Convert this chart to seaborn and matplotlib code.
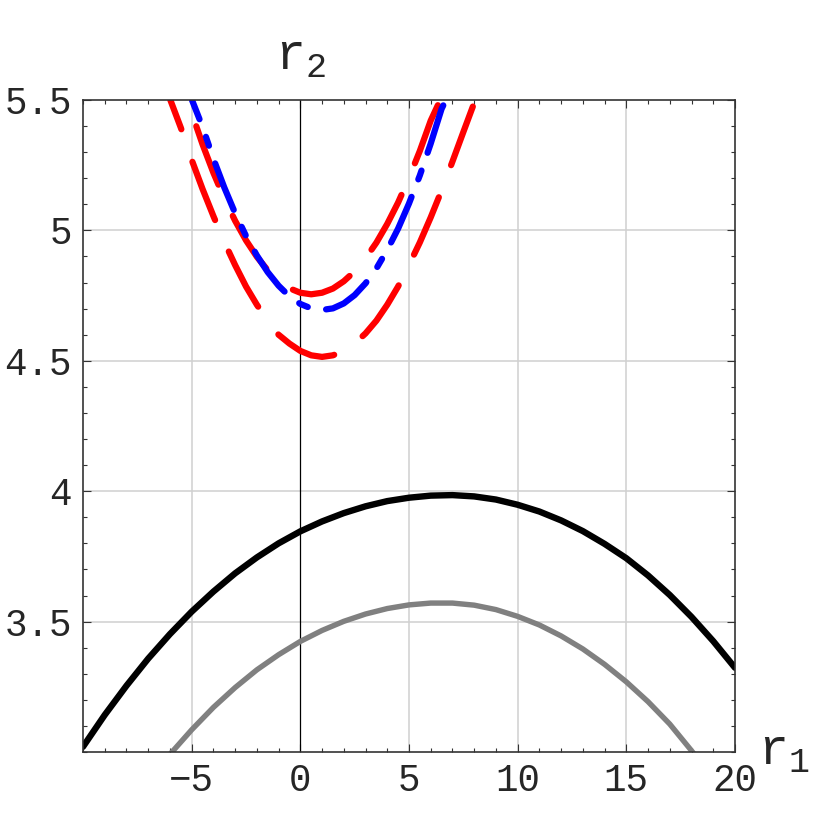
import matplotlib
matplotlib.use("Agg")
import matplotlib.pyplot as plt
import seaborn as sns
from matplotlib.ticker import FixedLocator, MultipleLocator

# values
black_x = [-10, -9, -8, -7, -6, -5, -4, -3, -2, -1, 0, 1, 2, 3, 4, 5, 6, 7,
           8, 9, 10, 11, 12, 13, 14, 15, 16, 17, 18, 19, 20]
black_y = [3.02, 3.142, 3.254, 3.358, 3.452, 3.538, 3.615, 3.685, 3.746, 3.800,
           3.846, 3.884, 3.916, 3.942, 3.962, 3.975, 3.983, 3.985, 3.980,
           3.968, 3.948, 3.922, 3.888, 3.847, 3.798, 3.743, 3.677, 3.602,
           3.518, 3.425, 3.323]

gray_x = [-6, -5, -4, -3, -2, -1, 0, 1, 2, 3, 4, 5, 6, 7, 8, 9, 10, 11, 12,
          13, 14, 15, 16, 17, 18, 18.2]
gray_y = [2.991, 3.085, 3.171, 3.247, 3.315, 3.373, 3.424, 3.466, 3.501, 3.529,
          3.550, 3.564, 3.571, 3.571, 3.563, 3.546, 3.52, 3.487, 3.445, 3.395,
          3.336, 3.269, 3.193, 3.107, 3.005, 2.983]

blue_x = [-4.985, -4.5, -4, -3.5, -3, -2.5, -2, -1.5, -1, -0.5, 0, 0.5, 1,
          1.5, 2, 2.5, 3, 3.5, 4, 4.5, 5, 5.5, 6, 6.5, 6.7]
blue_y = [5.5, 5.397, 5.275, 5.165, 5.066, 4.979, 4.904, 4.840, 4.788, 4.747,
          4.718, 4.701, 4.695, 4.701, 4.72, 4.752, 4.797, 4.854, 4.925, 5.007,
          5.103, 5.211, 5.333, 5.466, 5.5]

red_in_x = [-5.25, -5, -4.5, -4, -3.5, -3, -2.5, -2, -1.5, -1, -0.5, 0, 0.5,
            1, 1.5, 2, 2.5, 3, 3.5, 4, 4.5, 5, 5.5, 6, 6.44]
red_in_y = [5.5, 5.451, 5.33, 5.221, 5.123, 5.037, 4.962, 4.899, 4.847, 4.807,
            4.778, 4.761, 4.755, 4.761, 4.777, 4.805, 4.843, 4.893, 4.953,
            5.025, 5.107, 5.201, 5.305, 5.421, 5.5]

red_out_x = [-5.98, -5.5, -5, -4.5, -4, -3.5, -3, -2.5, -2, -1.5, -1, -0.5, 0,
             0.5, 1, 1.5, 2, 2.5, 3, 3.5, 4, 4.5, 5, 5.5, 6, 6.5, 7, 7.5, 8.05]
red_out_y = [5.5, 5.394, 5.271, 5.159, 5.055, 4.956, 4.867, 4.785, 4.715,
             4.654, 4.60, 4.566, 4.538, 4.521, 4.515, 4.521, 4.538, 4.566,
             4.605, 4.654, 4.715, 4.785, 4.867, 4.954, 5.05, 5.153, 5.264,
             5.377, 5.5]

x_ticks = [-5, 0, 5, 10, 15, 20]
x_labels = ["\u22125", "0", "5", "10", "15", "20"]
y_ticks = [3.5, 4, 4.5, 5, 5.5]
y_labels = ["3.5", "4", "4.5", "5", "5.5"]

sns.set_style("ticks")
plt.rcParams["font.family"] = ["Liberation Mono", "DejaVu Sans Mono"]
plt.rcParams["mathtext.fontset"] = "custom"
plt.rcParams["mathtext.rm"] = "Liberation Mono"
plt.rcParams["mathtext.it"] = "Liberation Mono"

fig = plt.figure(figsize=(8.3, 8.3), dpi=100)
ax = fig.add_axes([0.1, 0.094, 0.7855, 0.7855])

ax.set_xlim(-10, 20)
ax.set_ylim(3.0, 5.5)

# grid and the r2 axis line
for gx in [-5, 5, 10, 15]:
    ax.axvline(gx, color="#d0d0d0", lw=1.1, zorder=0)
for gy in [3.5, 4, 4.5, 5]:
    ax.axhline(gy, color="#d0d0d0", lw=1.1, zorder=0)
ax.axvline(0, color="black", lw=0.9, zorder=1)

sns.lineplot(x=black_x, y=black_y, ax=ax, color="black", linewidth=4.6,
             estimator=None, sort=False)
sns.lineplot(x=gray_x, y=gray_y, ax=ax, color="#808080", linewidth=3.9,
             estimator=None, sort=False)

sns.lineplot(x=red_out_x, y=red_out_y, ax=ax, color="red", linewidth=4.5,
             linestyle=(5, (10, 5.5)), dash_capstyle="round",
             estimator=None, sort=False)
sns.lineplot(x=red_in_x, y=red_in_y, ax=ax, color="red", linewidth=4.5,
             linestyle=(11, (10, 5.5)), dash_capstyle="round",
             estimator=None, sort=False)
sns.lineplot(x=blue_x, y=blue_y, ax=ax, color="blue", linewidth=4.5,
             linestyle=(4.7, (8, 3.0, 1.5, 3.0)), dash_capstyle="round",
             estimator=None, sort=False)

ax.xaxis.set_major_locator(FixedLocator(x_ticks))
ax.set_xticklabels(x_labels)
ax.yaxis.set_major_locator(FixedLocator(y_ticks))
ax.set_yticklabels(y_labels)
ax.xaxis.set_minor_locator(MultipleLocator(1))
ax.yaxis.set_minor_locator(MultipleLocator(0.1))
ax.tick_params(which="both", direction="in", top=True, right=True,
               color="#333333", width=0.8, labelsize=27)
ax.tick_params(which="major", length=6, pad=8)
ax.tick_params(which="minor", length=3)
for s in ax.spines.values():
    s.set_color("#333333")
    s.set_linewidth(1.2)

ax.set_xlabel("")
ax.set_ylabel("")
ax.text(0, 1.03, r"$\mathrm{r}_{2}$", transform=ax.get_xaxis_transform(),
        ha="center", va="bottom", fontsize=36)
ax.text(1.035, 0.0, r"$\mathrm{r}_{1}$", transform=ax.transAxes,
        ha="left", va="center", fontsize=36)

fig.savefig("out.png", dpi=100)
